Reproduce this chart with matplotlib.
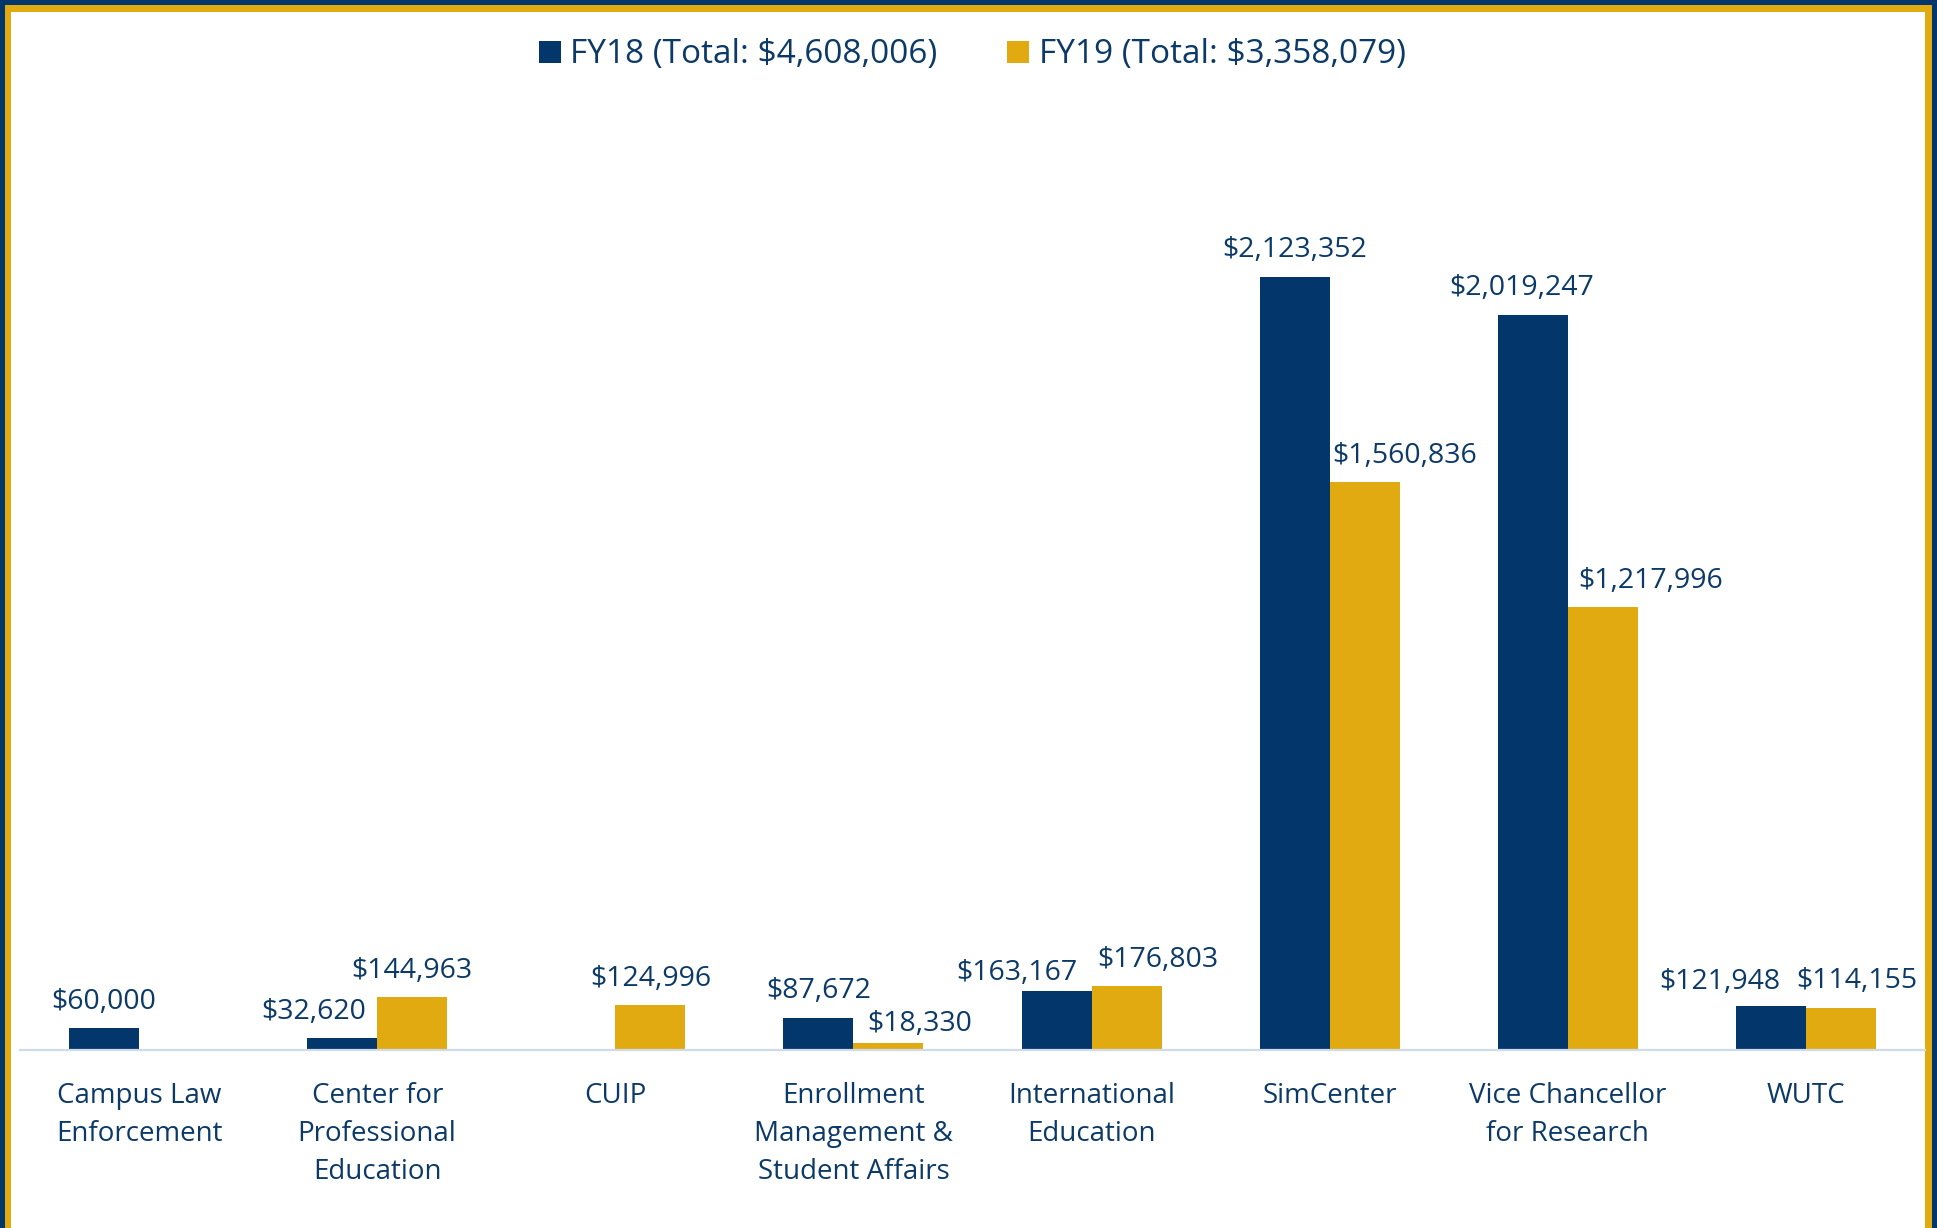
import numpy as np
import matplotlib
matplotlib.use("Agg")
import matplotlib.pyplot as plt
from matplotlib.patches import Rectangle

# ------------------------------------------------------------
# data
# ------------------------------------------------------------
CATEGORIES = [
    "Campus Law\nEnforcement",
    "Center for\nProfessional\nEducation",
    "CUIP",
    "Enrollment\nManagement &\nStudent Affairs",
    "International\nEducation",
    "SimCenter",
    "Vice Chancellor\nfor Research",
    "WUTC",
]
FY18 = [60000, 32620, np.nan, 87672, 163167, 2123352, 2019247, 121948]
FY19 = [np.nan, 144963, 124996, 18330, 176803, 1560836, 1217996, 114155]
LEGEND_LABELS = ["FY18 (Total: $4,608,006)", "FY19 (Total: $3,358,079)"]

# label nudges (pixels): (dx, dy) of label centre relative to bar top
NUDGE18 = [(0, 26), (-28, 26), (0, 26), (0, 27), (-40, 18), (0, 27), (-11, 27), (-51, 24)]
NUDGE19 = [(0, 26), (0, 26), (0, 26), (31, 19), (31, 26), (40, 26), (48, 26), (16, 27)]

NAVY = "#03366a"
GOLD = "#e1aa10"
TEXT = "#0c3a68"

W, H = 1937, 1228
plt.rcParams["font.family"] = ["Open Sans", "DejaVu Sans"]

fig = plt.figure(figsize=(W / 100, H / 100), dpi=100, facecolor=NAVY)

# frame: navy outside, gold band, white inside (open at the bottom)
fig.add_artist(Rectangle((5 / W, -0.05), (1932 - 5) / W, 1.05 - 4.5 / H,
                         transform=fig.transFigure, facecolor=GOLD,
                         edgecolor="none", zorder=-3))
fig.add_artist(Rectangle((11 / W, -0.05), (1925 - 11) / W, 1.05 - 12 / H,
                         transform=fig.transFigure, facecolor="white",
                         edgecolor="none", zorder=-2))

ax = fig.add_axes([20 / W, 1 - 1050 / H, (1925 - 20) / W, (1050 - 140) / H])
ax.set_facecolor("none")

x = np.arange(len(CATEGORIES))
bw = 0.294
ax.bar(x - bw / 2, FY18, bw, color=NAVY, label=LEGEND_LABELS[0], zorder=2)
ax.bar(x + bw / 2, FY19, bw, color=GOLD, label=LEGEND_LABELS[1], zorder=2)

ax.set_xlim(-0.5, len(CATEGORIES) - 0.5)
ax.set_ylim(0, 2500000)

for xs, vals, nudges in [(x - bw / 2, FY18, NUDGE18), (x + bw / 2, FY19, NUDGE19)]:
    for xi, v, (dx, dy) in zip(xs, vals, nudges):
        if np.isnan(v):
            continue
        ax.annotate(f"${v:,.0f}", (xi, v), xytext=(dx, dy),
                    textcoords="offset pixels", ha="center", va="center",
                    fontsize=20.5, color=TEXT)

for s in ["top", "right", "left"]:
    ax.spines[s].set_visible(False)
ax.spines["bottom"].set_color("#cfdbea")
ax.spines["bottom"].set_linewidth(1.6)
ax.set_yticks([])
ax.set_xticks(x)
ax.set_xticklabels(CATEGORIES, fontsize=20, color=TEXT, linespacing=1.48)
ax.tick_params(axis="x", length=0, pad=23)

fig.legend(loc="center", bbox_to_anchor=(0.502, 1 - 55 / H), ncol=2,
           frameon=False, fontsize=24, labelcolor=TEXT,
           handlelength=0.66, handleheight=0.66, handletextpad=0.28,
           columnspacing=2.1)

fig.savefig("out.png", dpi=100, facecolor=NAVY)
